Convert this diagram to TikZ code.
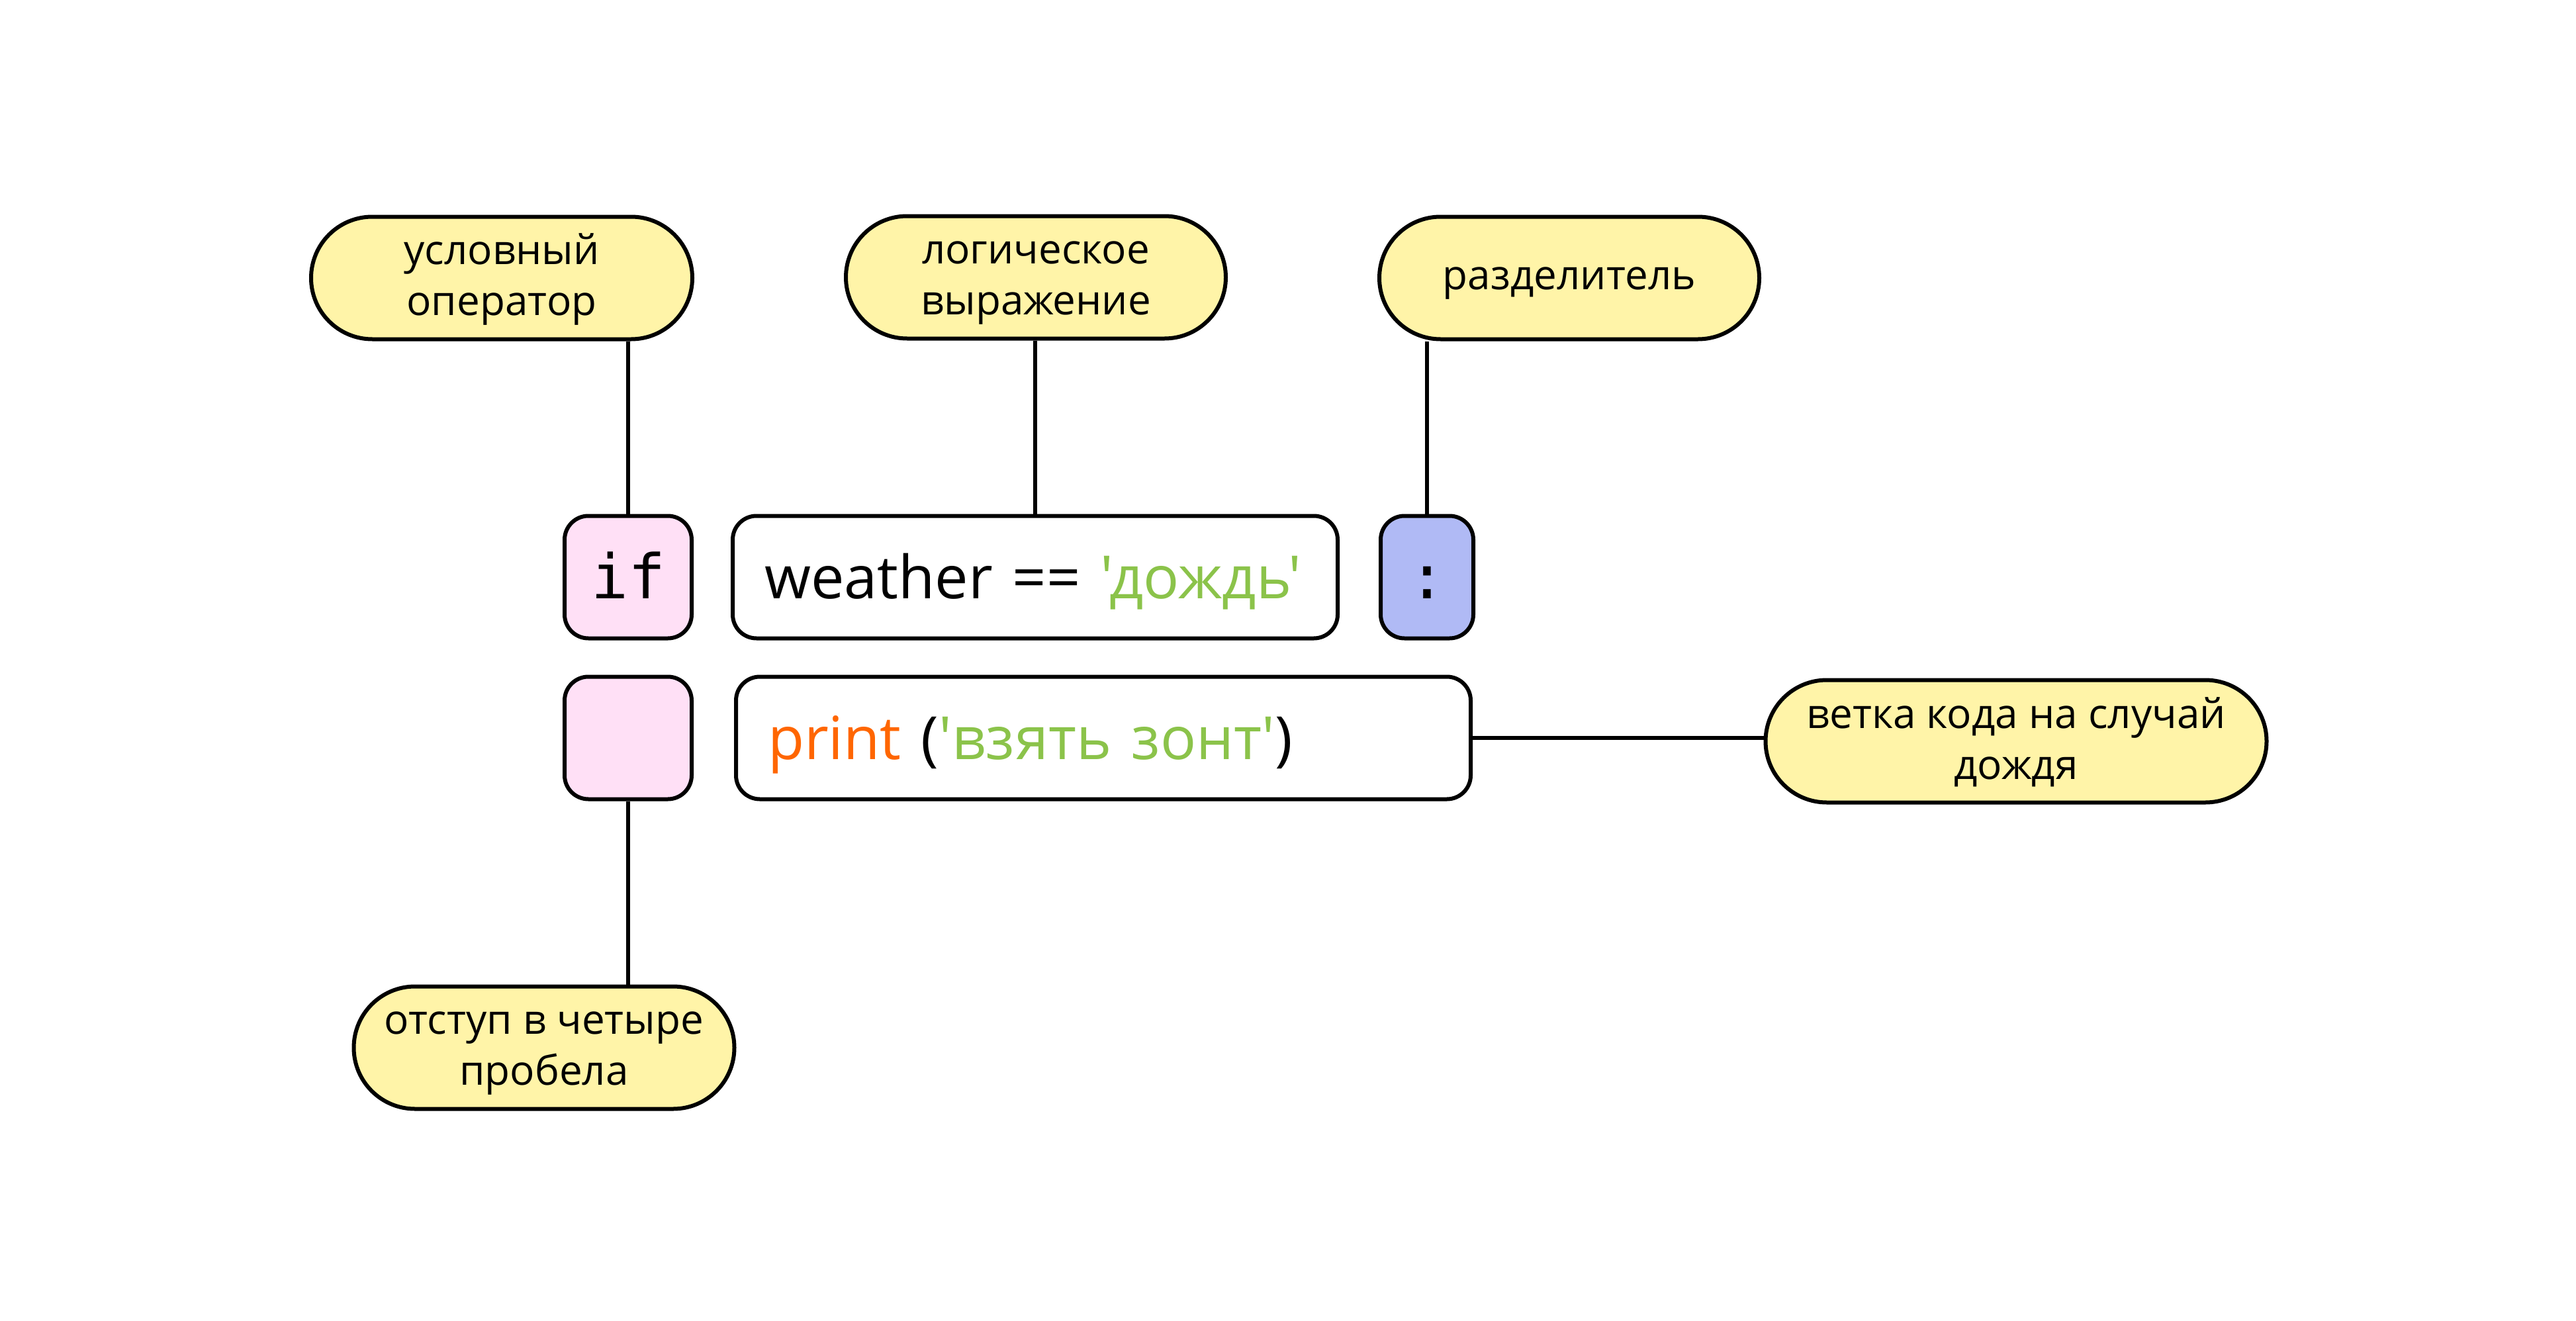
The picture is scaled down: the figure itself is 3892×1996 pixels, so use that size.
\documentclass[tikz,border=0pt]{standalone}
\usepackage{fontspec}
\setmainfont{Open Sans}
\newfontfamily\codesans{Open Sans}
\newfontfamily\codemono{DejaVu Sans Mono}
\usetikzlibrary{shapes.misc,backgrounds}
\definecolor{cyellow}{HTML}{FFF4A8}
\definecolor{cpink}{HTML}{FFE0F6}
\definecolor{cblue}{HTML}{B0BAF5}
\definecolor{cgreen}{HTML}{8BC34A}
\definecolor{corange}{HTML}{FF6600}
\newcommand\cstrut{\rule[-9pt]{0pt}{59pt}}
\tikzset{
  callout/.style={draw, line width=6pt, fill=cyellow, rounded rectangle,
    minimum height=185pt, inner sep=0pt, align=center,
    font=\fontsize{62}{77}\selectfont},
  codebox/.style={draw, line width=6pt, rounded corners=36pt, fill=white,
    minimum height=185pt, inner sep=0pt, text height=64pt, text depth=0pt},
  codetext/.style={font=\codesans\fontsize{90}{100}\selectfont, align=left},
  monotext/.style={font=\codemono\fontsize{93}{100}\selectfont},
  conn/.style={line width=6pt}
}
\begin{document}
\begin{tikzpicture}[x=1pt,y=-1pt]
\useasboundingbox (0,0) rectangle (3892,1996);
% callouts
\node[callout, minimum width=576pt] (c1) at (758,420) {\cstrut условный\\\cstrut оператор};
\node[callout, minimum width=574pt] (c2) at (1565,419) {\cstrut логическое\\\cstrut выражение};
\node[callout, minimum width=574pt] (c3) at (2371,420) {\cstrut разделитель};
\node[callout, minimum width=757pt] (c4) at (3046,1120) {\cstrut ветка кода на случай\\\cstrut дождя};
\node[callout, minimum width=575pt] (c5) at (822,1583) {\cstrut отступ в четыре\\\cstrut пробела};
% code boxes
\node[codebox, monotext, fill=cpink, minimum width=192pt] (ifbox) at (949,872) {if};
\node[codebox, codetext, minimum width=914pt, text width=818pt] (cond) at (1564,872)
  {weather\ ==\ \textcolor{cgreen}{'дождь'}};
\node[codebox, monotext, fill=cblue, minimum width=140pt] (colon) at (2156,872) {:};
\node[codebox, fill=cpink, minimum width=192pt] (indent) at (949,1115) {};
\node[codebox, codetext, minimum width=1110pt, text width=1014pt] (body) at (1667,1115)
  {\textcolor{corange}{print}\ (\textcolor{cgreen}{'взять\ зонт'})};
% connectors
\begin{scope}[on background layer]
\draw[conn] (ifbox.north) -- (ifbox.north |- c1.south);
\draw[conn] (cond.north) -- (cond.north |- c2.south);
\draw[conn] (colon.north) -- (colon.north |- c3.south);
\draw[conn] (body.east) -- (body.east -| c4.west);
\draw[conn] (indent.south) -- (indent.south |- c5.north);
\end{scope}
\end{tikzpicture}
\end{document}
